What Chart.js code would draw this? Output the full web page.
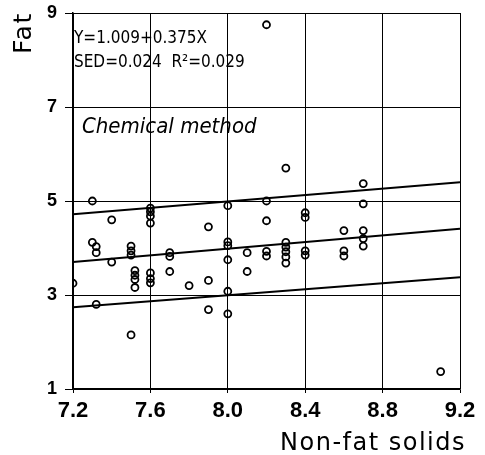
<!DOCTYPE html>
<html>
<head>
<meta charset="utf-8">
<script src="https://cdn.jsdelivr.net/npm/chart.js@4"></script>
<style>
  html, body { margin: 0; padding: 0; background: #fff; }
  #wrap { width: 485px; height: 455px; }
</style>
</head>
<body>
<div id="wrap"><canvas id="grafico" width="485" height="455"></canvas></div>
<script>
// pontos (sólidos não gordurosos x gordura)
const solidos = [
  7.2, 7.3, 7.3, 7.32, 7.32, 7.32, 7.4, 7.4,
  7.5, 7.5, 7.5, 7.52, 7.52, 7.52, 7.52, 7.5,
  7.6, 7.6, 7.6, 7.6, 7.6, 7.6, 7.6,
  7.7, 7.7, 7.7, 7.8,
  7.9, 7.9, 7.9,
  8.0, 8.0, 8.0, 8.0, 8.0, 8.0,
  8.1, 8.1,
  8.2, 8.2, 8.2, 8.2, 8.2,
  8.3, 8.3, 8.3, 8.3, 8.3, 8.3,
  8.4, 8.4, 8.4, 8.4,
  8.6, 8.6, 8.6,
  8.7, 8.7, 8.7, 8.7, 8.7,
  9.1
];
const gordura = [
  3.25, 5.0, 4.12, 4.03, 3.9, 2.8, 4.6, 3.7,
  4.04, 3.94, 3.85, 3.52, 3.42, 3.33, 3.16, 2.15,
  4.85, 4.77, 4.68, 4.53, 3.47, 3.35, 3.26,
  3.9, 3.82, 3.5, 3.2,
  4.45, 3.31, 2.69,
  4.9, 4.13, 4.05, 3.75, 3.08, 2.6,
  3.9, 3.5,
  8.75, 5.0, 4.58, 3.93, 3.83,
  5.7, 4.12, 4.02, 3.92, 3.81, 3.68,
  4.75, 4.65, 3.94, 3.85,
  4.37, 3.94, 3.83,
  5.37, 4.94, 4.37, 4.2, 4.04,
  1.37
];
// pontas das três retas
const xReta = [7.2, 9.2];
const retaSup = [4.72, 5.40];
const retaMeio = [3.70, 4.41];
const retaInf = [2.74, 3.38];

const ticksX = [7.2, 7.6, 8.0, 8.4, 8.8, 9.2];
const ticksY = [1, 3, 5, 7, 9];

const tituloX = "Non-fat solids";
const tituloY = "Fat";
const equacao = "Y=1.009+0.375X";
const estatistica = "SED=0.024  R\u00b2=0.029";
const metodo = "Chemical method";

const fonteNarrow = "'DejaVu Sans Condensed', 'DejaVu Sans', sans-serif";
const fonteLarga = "'DejaVu Sans', sans-serif";
const fonteTicks = "'Liberation Sans', Arial, sans-serif";

const pontos = solidos.map((x, i) => ({ x: x, y: gordura[i] }));
const reta = ys => xReta.map((x, i) => ({ x: x, y: ys[i] }));

const textos = {
  id: "textos",
  afterDatasetsDraw(chart) {
    const { ctx, chartArea } = chart;
    ctx.save();
    ctx.fillStyle = "#000";
    ctx.textBaseline = "alphabetic";
    ctx.textAlign = "left";
    ctx.font = "17px " + fonteNarrow;
    ctx.fillText(equacao, chartArea.left + 1, chartArea.top + 30);
    ctx.fillText(estatistica, chartArea.left + 1, chartArea.top + 54);
    ctx.font = "italic 22px " + fonteNarrow;
    ctx.fillText(metodo, chartArea.left + 9, chartArea.top + 120);

    // títulos dos eixos
    ctx.letterSpacing = "1.5px";
    ctx.font = "24px " + fonteLarga;
    ctx.textAlign = "right";
    ctx.fillText(tituloX, chartArea.right + 6, chartArea.bottom + 61);
    ctx.translate(31, chartArea.top + 41);
    ctx.rotate(-Math.PI / 2);
    ctx.textAlign = "left";
    ctx.font = "25px " + fonteLarga;
    ctx.fillText(tituloY, 0, 0);
    ctx.restore();
  }
};

new Chart(document.getElementById("grafico"), {
  type: "scatter",
  data: {
    datasets: [
      {
        data: pontos,
        pointStyle: "circle",
        pointRadius: 3.5,
        borderWidth: 1.8,
        borderColor: "#000",
        backgroundColor: "rgba(255,255,255,0)"
      },
      { type: "line", data: reta(retaSup), borderColor: "#000", borderWidth: 2, pointRadius: 0 },
      { type: "line", data: reta(retaMeio), borderColor: "#000", borderWidth: 2, pointRadius: 0 },
      { type: "line", data: reta(retaInf), borderColor: "#000", borderWidth: 2, pointRadius: 0 }
    ]
  },
  options: {
    responsive: false,
    animation: false,
    layout: { padding: { top: 13, right: 25, left: 0, bottom: 0 } },
    plugins: { legend: { display: false }, tooltip: { enabled: false } },
    scales: {
      x: {
        type: "linear",
        min: 7.2,
        max: 9.2,
        afterBuildTicks: s => { s.ticks = ticksX.map(v => ({ value: v })); },
        afterFit: s => { s.height = 66; s.paddingLeft = 0; s.paddingRight = 0; },
        ticks: {
          color: "#000",
          padding: 5,
          font: { family: fonteTicks, size: 22, weight: "bold" },
          callback: v => v.toFixed(1),
          maxRotation: 0
        },
        grid: { color: "#000", lineWidth: 1, tickLength: 4, drawTicks: true },
        border: { color: "#000", width: 1.5 }
      },
      y: {
        type: "linear",
        min: 1,
        max: 9,
        afterBuildTicks: s => { s.ticks = ticksY.map(v => ({ value: v })); },
        afterFit: s => { s.width = 73; s.paddingTop = 0; s.paddingBottom = 0; },
        ticks: {
          color: "#000",
          padding: 8,
          font: { family: fonteTicks, size: 18, weight: "bold" }
        },
        grid: { color: "#000", lineWidth: 1, tickLength: 8, drawTicks: true },
        border: { color: "#000", width: 1.5 }
      }
    }
  },
  plugins: [textos]
});
</script>
</body>
</html>
